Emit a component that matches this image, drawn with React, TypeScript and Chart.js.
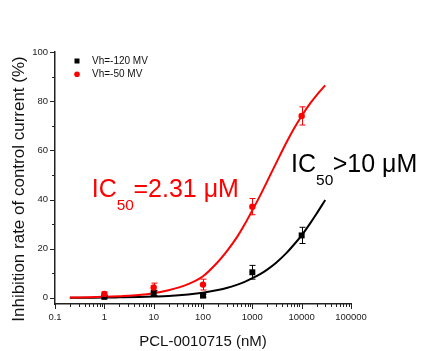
import React, { useEffect, useRef } from "react";
import { Chart, registerables } from "chart.js";

Chart.register(...registerables);

const FONT = "'Liberation Sans', Arial, Helvetica, sans-serif";

// axis ticks
const xTicks = [0.1, 1, 10, 100, 1000, 10000, 100000];
const yTicks = [0, 20, 40, 60, 80, 100];
const yMinorTicks = [10, 30, 50, 70, 90];

// measured points
const concentrations = [1, 10, 100, 1000, 10000];
const inhib50 = [1.6, 4.2, 5.4, 37.1, 74.0];
const err50 = [0.8, 1.8, 2.2, 3.3, 3.7];
const inhib120 = [0.4, 2.0, 0.9, 10.4, 25.4];
const err120 = [0.5, 1.0, 0.6, 2.8, 3.3];

// fitted curves
const fitX = [0.2, 0.5, 1, 2, 5, 10, 20, 50, 100, 200, 300, 500, 700, 1000, 1500, 2000, 3000, 5000, 7000, 10000, 15000, 20000, 30000];
const fit50 = [0.1, 0.2, 0.4, 0.7, 1.2, 1.9, 3.1, 5.6, 8.8, 14.6, 18.8, 25.0, 29.9, 35.6, 42.3, 47.4, 54.6, 63.5, 68.9, 74.0, 79.2, 82.4, 86.4];
const fit120 = [0.0, 0.05, 0.1, 0.2, 0.35, 0.55, 0.8, 1.4, 2.1, 3.2, 4.0, 5.4, 6.5, 8.0, 9.9, 11.5, 14.2, 18.4, 21.7, 25.4, 30.4, 34.2, 39.8];

const seriesLabels = ["Vh=-120 MV", "Vh=-50 MV"];
const xTitle = "PCL-0010715 (nM)";
const yTitle = "Inhibition rate of control current (%)";

// IC50 annotations: text parts and anchor (data coords)
const ic50Red = { main: "IC", sub: "50", rest: "=2.31 μM" };
const ic50RedAt = { x: 0.555, y: 40.9 };
const ic50Black = { main: "IC", sub: "50", rest: ">10 μM" };
const ic50BlackAt = { x: 6080, y: 51.3 };

const RED = "#ff0000";
const BLACK = "#000000";
const AXIS = "#222222";

function drawIC(ctx: CanvasRenderingContext2D, x: number, y: number, parts: any, color: string) {
  ctx.save();
  ctx.fillStyle = color;
  ctx.textAlign = "left";
  ctx.textBaseline = "alphabetic";
  ctx.font = `25px ${FONT}`;
  ctx.fillText(parts.main, x, y);
  let cx = x + ctx.measureText(parts.main).width;
  ctx.font = `15.5px ${FONT}`;
  ctx.fillText(parts.sub, cx, y + 13);
  cx += ctx.measureText(parts.sub).width - 0.5;
  ctx.font = `25px ${FONT}`;
  ctx.fillText(parts.rest, cx, y);
  ctx.restore();
}

const decor = {
  id: "decor",
  beforeDatasetDraw(chart: any, args: any) {
    if (args.index !== 3) return;
    const { ctx, scales } = chart;
    const xs = scales.x;
    const ys = scales.y;
    const drawErr = (vals: number[], errs: number[], color: string) => {
      ctx.save();
      ctx.strokeStyle = color;
      ctx.lineWidth = 1;
      vals.forEach((v, i) => {
        const px = Math.round(xs.getPixelForValue(concentrations[i])) + 0.5;
        const top = ys.getPixelForValue(v + errs[i]);
        const bot = ys.getPixelForValue(v - errs[i]);
        ctx.beginPath();
        ctx.moveTo(px, top);
        ctx.lineTo(px, bot);
        ctx.moveTo(px - 3, top);
        ctx.lineTo(px + 3, top);
        ctx.moveTo(px - 3, bot);
        ctx.lineTo(px + 3, bot);
        ctx.stroke();
      });
      ctx.restore();
    };
    drawErr(inhib120, err120, BLACK);
    drawErr(inhib50, err50, RED);
  },
  afterDraw(chart: any) {
    const { ctx, scales, chartArea } = chart;
    const xs = scales.x;
    const ys = scales.y;
    ctx.save();
    ctx.strokeStyle = AXIS;
    ctx.lineWidth = 1;
    const left = chartArea.left;
    const bottom = chartArea.bottom;
    ctx.beginPath();
    yTicks.forEach((v) => {
      const py = Math.round(ys.getPixelForValue(v)) + 0.5;
      ctx.moveTo(left - 5, py);
      ctx.lineTo(left, py);
    });
    yMinorTicks.forEach((v) => {
      const py = Math.round(ys.getPixelForValue(v)) + 0.5;
      ctx.moveTo(left - 3, py);
      ctx.lineTo(left, py);
    });
    xTicks.forEach((v, i) => {
      const px = Math.round(xs.getPixelForValue(v)) + 0.5;
      ctx.moveTo(px, bottom);
      ctx.lineTo(px, bottom + 5);
      if (i < xTicks.length - 1) {
        for (let m = 2; m <= 9; m++) {
          const mx = Math.round(xs.getPixelForValue(v * m)) + 0.5;
          ctx.moveTo(mx, bottom);
          ctx.lineTo(mx, bottom + 3);
        }
      }
    });
    ctx.stroke();

    // axis titles
    ctx.fillStyle = "#111";
    ctx.textAlign = "center";
    ctx.textBaseline = "alphabetic";
    ctx.font = `15px ${FONT}`;
    ctx.fillText(xTitle, (xs.getPixelForValue(xTicks[2]) + xs.getPixelForValue(xTicks[4])) / 2, 346);
    ctx.save();
    ctx.translate(24, (chartArea.top + chartArea.bottom) / 2 + 11);
    ctx.rotate(-Math.PI / 2);
    ctx.font = `17px ${FONT}`;
    ctx.fillText(yTitle, 0, 0);
    ctx.restore();

    // legend
    ctx.textAlign = "left";
    ctx.textBaseline = "middle";
    ctx.font = `10px ${FONT}`;
    ctx.fillStyle = BLACK;
    ctx.fillRect(74.5, 58.5, 5, 5);
    ctx.fillStyle = "#111";
    ctx.fillText(seriesLabels[0], 92, 61);
    ctx.fillStyle = RED;
    ctx.beginPath();
    ctx.arc(77, 74.3, 2.8, 0, Math.PI * 2);
    ctx.fill();
    ctx.fillStyle = "#111";
    ctx.fillText(seriesLabels[1], 92, 74.5);

    // annotations
    drawIC(ctx, xs.getPixelForValue(ic50RedAt.x), ys.getPixelForValue(ic50RedAt.y), ic50Red, RED);
    drawIC(ctx, xs.getPixelForValue(ic50BlackAt.x), ys.getPixelForValue(ic50BlackAt.y), ic50Black, BLACK);
    ctx.restore();
  },
};

export default function App() {
  const ref = useRef<HTMLCanvasElement | null>(null);
  useEffect(() => {
    if (!ref.current) return;
    const chart = new Chart(ref.current, {
      type: "line",
      data: {
        datasets: [
          {
            label: "fit -50",
            data: fitX.map((x, i) => ({ x, y: fit50[i] })),
            borderColor: RED,
            borderWidth: 2,
            pointRadius: 0,
            cubicInterpolationMode: "monotone",
            fill: false,
            order: 2,
          },
          {
            label: "fit -120",
            data: fitX.map((x, i) => ({ x, y: fit120[i] })),
            borderColor: BLACK,
            borderWidth: 2,
            pointRadius: 0,
            cubicInterpolationMode: "monotone",
            fill: false,
            order: 2,
          },
          {
            label: seriesLabels[1],
            data: concentrations.map((x, i) => ({ x, y: inhib50[i] })),
            showLine: false,
            pointStyle: "circle",
            pointRadius: 3.2,
            backgroundColor: RED,
            borderColor: RED,
            borderWidth: 0,
            order: 1,
          },
          {
            label: seriesLabels[0],
            data: concentrations.map((x, i) => ({ x, y: inhib120[i] })),
            showLine: false,
            pointStyle: "rect",
            pointRadius: 4.2,
            backgroundColor: BLACK,
            borderColor: BLACK,
            borderWidth: 0,
            order: 1,
          },
        ],
      } as any,
      options: {
        responsive: false,
        animation: false,
        layout: { padding: { top: 52, right: 70, left: 0, bottom: 0 } },
        plugins: { legend: { display: false }, tooltip: { enabled: false } },
        scales: {
          x: {
            type: "logarithmic",
            min: 0.1,
            max: 100000,
            afterBuildTicks: (s: any) => {
              s.ticks = xTicks.map((v) => ({ value: v }));
            },
            afterFit: (s: any) => {
              s.height = 47;
            },
            grid: { display: false, drawTicks: false },
            border: { display: true, color: AXIS, width: 1.5 },
            ticks: {
              callback: (v: any) => String(v),
              font: { family: FONT, size: 9.5 },
              color: "#222",
              padding: 8,
              maxRotation: 0,
              autoSkip: false,
            },
          },
          y: {
            type: "linear",
            min: -2.5,
            max: 100,
            afterBuildTicks: (s: any) => {
              s.ticks = yTicks.map((v) => ({ value: v }));
            },
            afterFit: (s: any) => {
              s.width = 55;
            },
            grid: { display: false, drawTicks: false },
            border: { display: true, color: AXIS, width: 1.5 },
            ticks: {
              font: { family: FONT, size: 9.5 },
              color: "#222",
              padding: 7,
            },
          },
        },
      } as any,
      plugins: [decor as any],
    });
    return () => chart.destroy();
  }, []);
  return (
    <div style={{ position: "absolute", left: 0, top: 0, width: 421, height: 351, background: "#fff" }}>
      <canvas ref={ref} width={421} height={351} style={{ display: "block" }} />
    </div>
  );
}
